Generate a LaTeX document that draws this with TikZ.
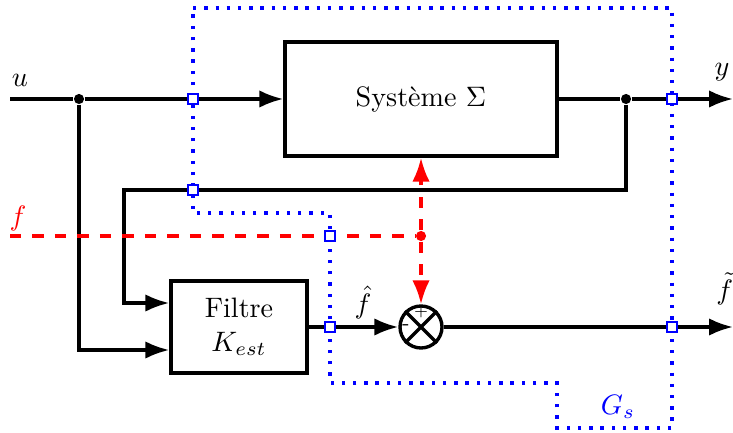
\documentclass[tikz,border=0pt]{standalone}
\usepackage{amsmath}
\usetikzlibrary{arrows.meta, positioning, calc}

\begin{document}
\begin{tikzpicture}[
    blk/.style={draw, line width=1.2pt, fill=white},
    sumnode/.style={draw, circle, line width=1.2pt, minimum size=0.525cm, inner sep=0pt},
    wire/.style={line width=1.2pt},
    link/.style={-{Latex[length=8.5pt, width=6.2pt]}, line width=1.2pt},
    flt/.style={red, line width=1.2pt, dash pattern=on 4pt off 4pt},
    fltlink/.style={flt, -{Latex[length=8.5pt, width=6.2pt]}},
    jdot/.style={circle, fill, inner sep=0pt, minimum size=3.6pt},
    port/.style={draw=blue, fill=white, line width=0.6pt, inner sep=0pt, minimum size=3.5pt},
    bnd/.style={blue, line width=1.2pt, dash pattern=on 1.2pt off 2.8pt},
]
    \useasboundingbox (0,0) rectangle (9.1625,5.4);

    % Boundary of G_s
    \draw[bnd] (2.4125,5.3) -- (8.4,5.3) -- (8.4,0.05) -- (6.9625,0.05) -- (6.9625,0.6125)
        -- (4.125,0.6125) -- (4.125,2.7375) -- (2.4125,2.7375) -- cycle;
    \node[blue] (lgs) at (7.725,0.3125) {$G_s$};

    % Blocks
    \node[blk, minimum width=3.4cm, minimum height=1.425cm] (sys) at (5.2625,4.1625) {Syst\`eme $\Sigma$};
    \node[blk, minimum width=1.7cm, minimum height=1.15cm, align=center] (filt) at (2.9875,1.3125) {Filtre\\$K_{est}$};

    % Comparator
    \node[sumnode] (sum) at (5.2625,1.3125) {};
    \draw[wire] (sum.north east) -- (sum.south west) (sum.north west) -- (sum.south east);
    \node[font=\fontsize{4}{5}\selectfont, inner sep=0pt] (plus) at ($(sum.center)+(0,0.185)$) {$+$};
    \node[font=\scriptsize, inner sep=0pt] (minus) at ($(sum.center)+(-0.19,0)$) {-};

    % Points
    \coordinate (uin) at (0.125,4.1625);
    \node[jdot] (ju) at (0.9875,4.1625) {};
    \node[jdot] (jy) at (7.825,4.1625) {};
    \coordinate (yout) at (9.1625,4.1625);
    \coordinate (fb) at (1.55,3.025);
    \coordinate (fout) at (9.1625,1.3125);
    \coordinate (fin) at (0.125,2.45);
    \node[jdot, red] (jf) at (5.2625,2.45) {};

    % Signals
    \draw[wire] (uin) -- (ju);
    \draw[link] (ju) -- (sys.west);
    \draw[wire] (sys.east) -- (jy);
    \draw[link] (jy) -- (yout);
    \draw[link] (jy) |- (fb) |- ([yshift=0.3cm]filt.west);
    \draw[link] (ju) |- ([yshift=-0.2875cm]filt.west);
    \draw[link] (filt.east) -- (sum.west);
    \draw[link] (sum.east) -- (fout);

    % Fault
    \draw[flt] (fin) -- (jf);
    \draw[fltlink] (jf) -- (sys.south);
    \draw[fltlink] (jf) -- (sum.north);

    % Ports
    \foreach \px/\py [count=\i] in {2.4125/4.1625, 2.4125/3.025, 4.125/2.45, 4.125/1.3125, 8.4/4.1625, 8.4/1.3125}
        \node[port] (port\i) at (\px,\py) {};

    % Labels
    \node (lu) at (0.25,4.4) {$u$};
    \node (ly) at (9.025,4.5) {$y$};
    \node[red] (lf) at (0.225,2.675) {$f$};
    \node (lfhat) at (4.5375,1.62) {$\hat{f}$};
    \node (lftilde) at (9.06,1.79) {$\tilde{f}$};
\end{tikzpicture}
\end{document}
